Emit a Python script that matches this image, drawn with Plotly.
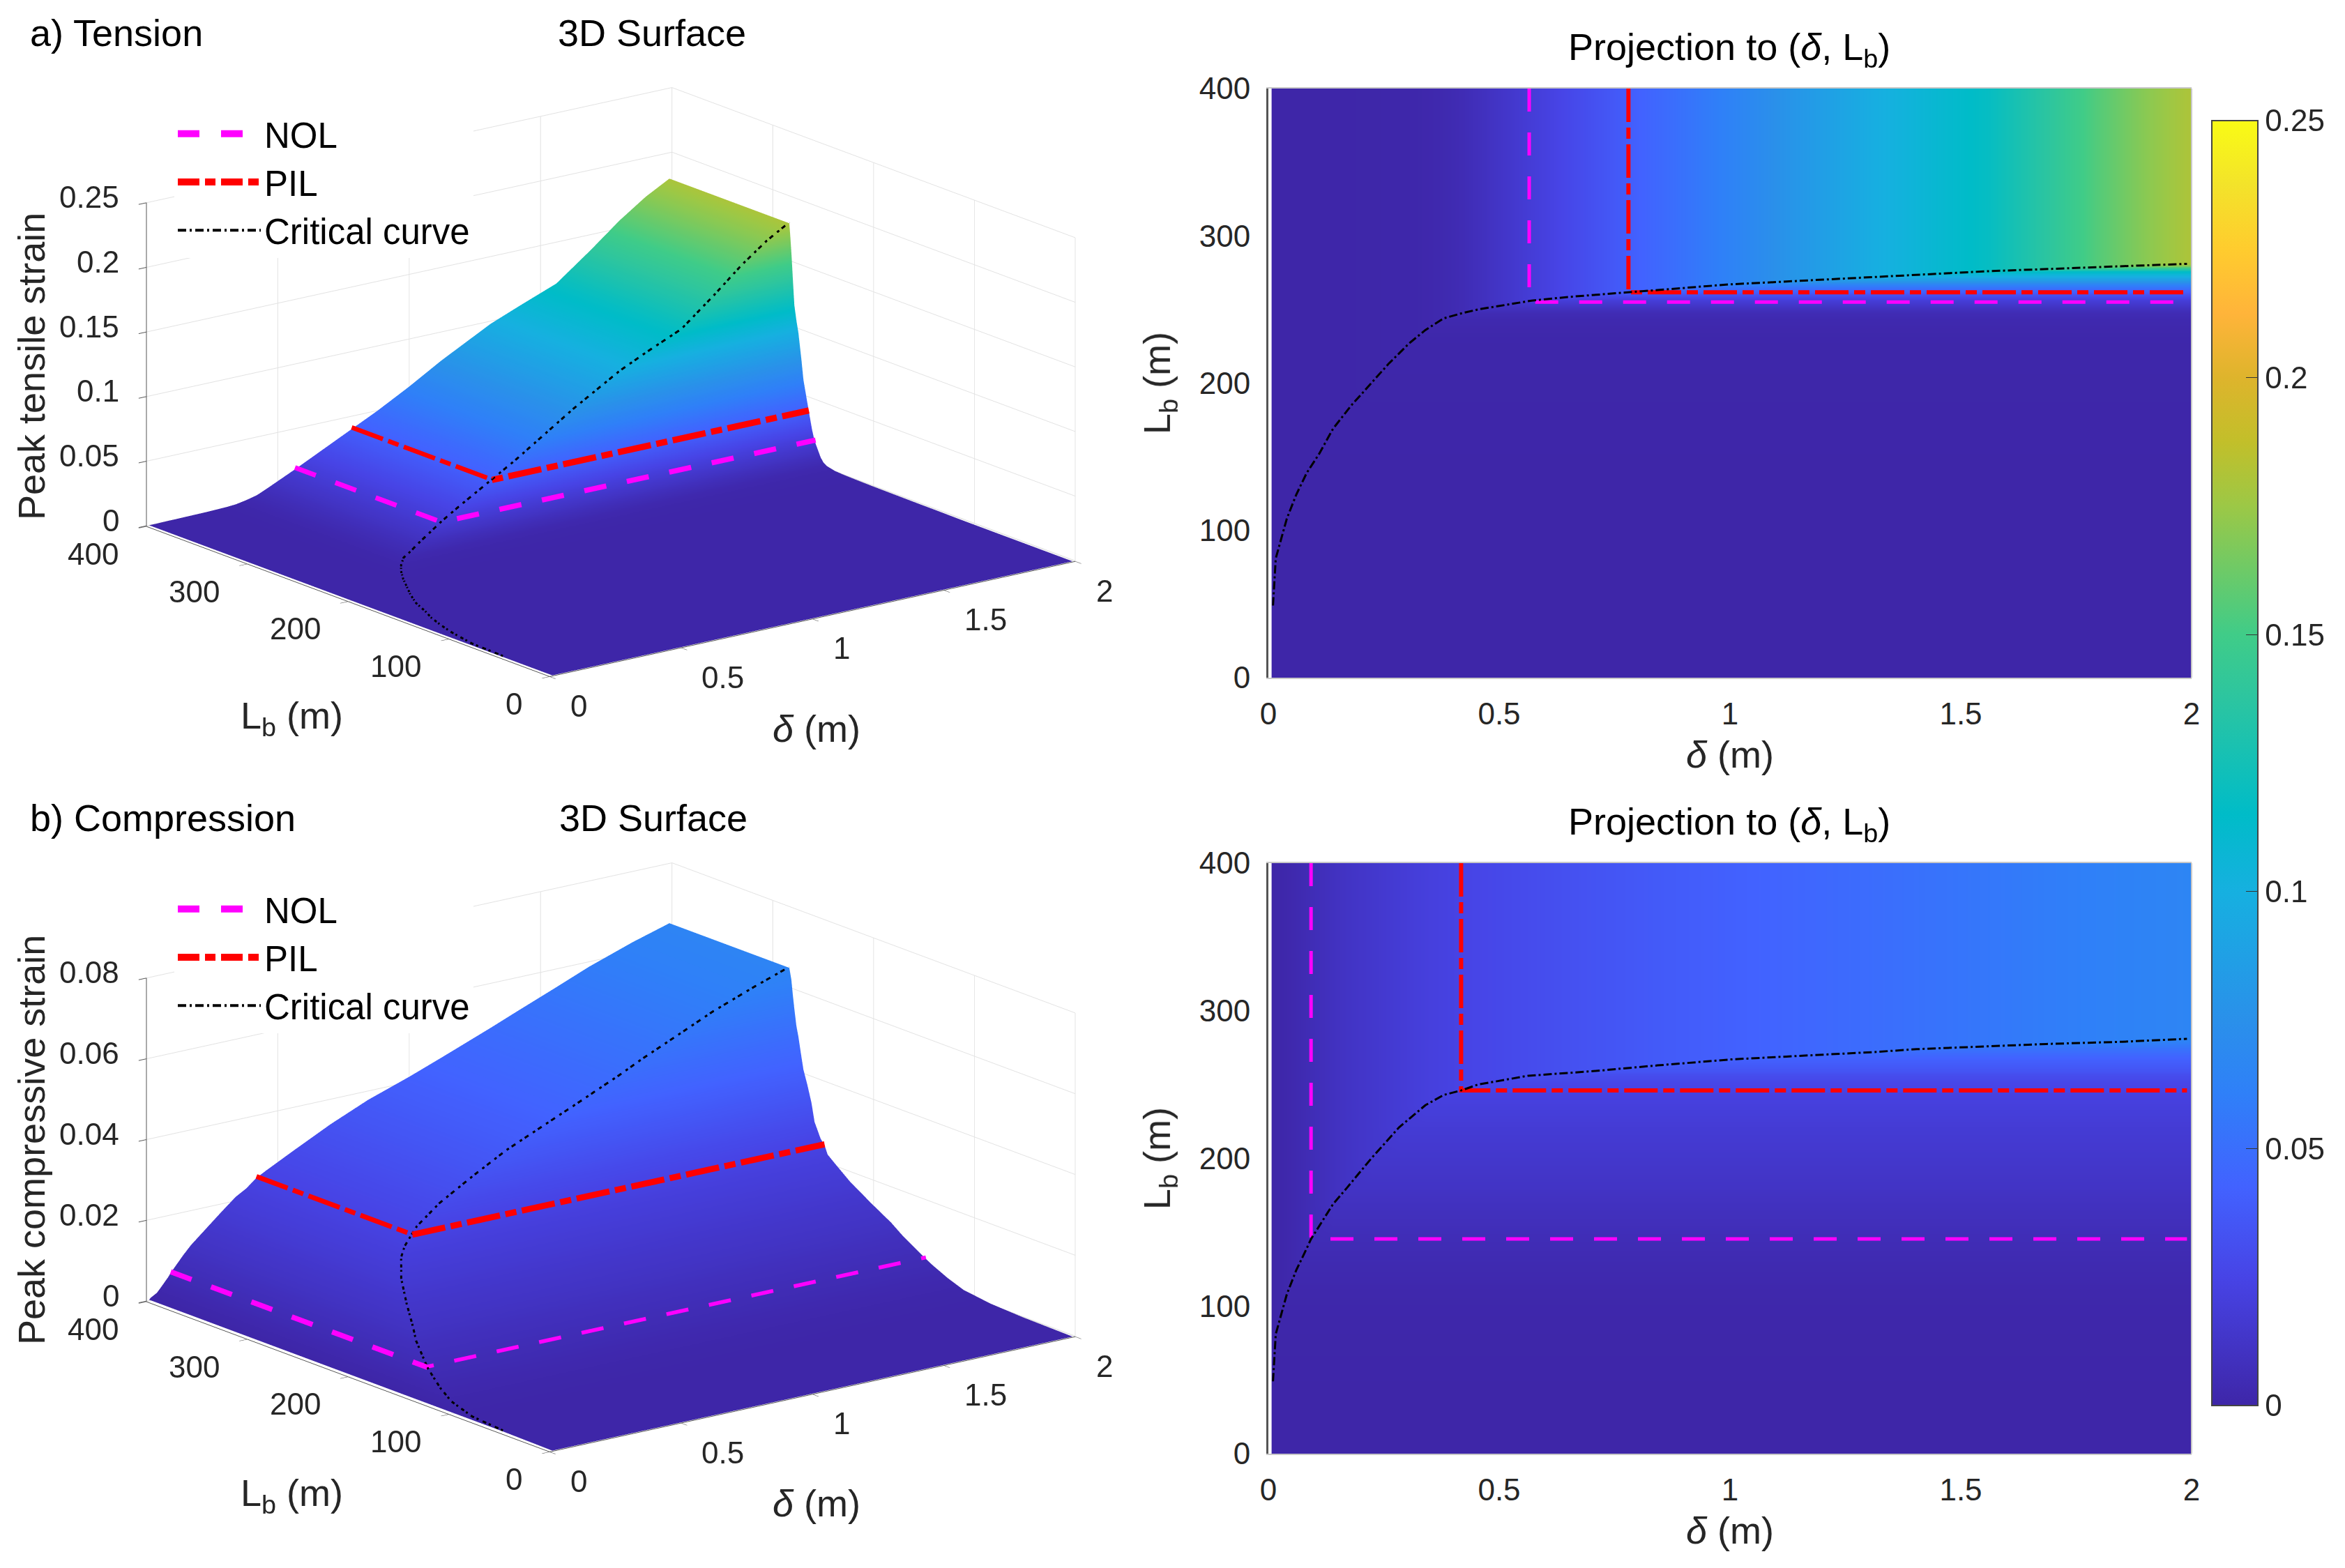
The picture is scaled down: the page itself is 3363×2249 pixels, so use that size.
import numpy as np
import plotly.graph_objects as go

W, H = 3363, 2249

# ---- values ----
# critical curve, shared by both panels: delta (m) and Lb (m)
t_delta = [0.01,0.016,0.04,0.06,0.083,0.11,0.14,0.18,0.223,0.26,0.305,0.34,0.38,0.42,0.454,0.57,0.65,0.78,0.88,0.998,1.123,1.31,1.42,1.56,1.69,1.8,1.9,1.99]
t_Lb    = [49,81,108,124,139,152,169,185,200,213,227,236,244,247.5,250,256,258.5,261.6,264,267,269,272,274,276,277.5,278.8,280,281]
# peak tensile strain along that curve
t_peak  = [0,0,0,0.0001,0.0002,0.0002,0.0003,0.0004,0.0005,0.0007,0.001,0.0015,0.003,0.005,0.008,0.019,0.027,0.04,0.05,0.063,0.078,0.098,0.107,0.118,0.138,0.156,0.17,0.18]

c_delta = [0.01,0.016,0.04,0.06,0.083,0.0924,0.14,0.17,0.223,0.283,0.34,0.38,0.4175,0.454,0.563,0.7,0.843,1.0,1.123,1.31,1.405,1.56,1.685,1.85,1.99]
c_Lb    = [49,81,108,124,139,145.4,169,180,200,221,236,243,246,250,256,259,263,267,269,272,274,276,277.5,279,281]
c_peak  = [0.0002,0.0006,0.0015,0.003,0.0048,0.0057,0.0094,0.0115,0.0145,0.0179,0.021,0.0225,0.0245,0.0258,0.0294,0.0338,0.0378,0.0413,0.0443,0.049,0.0515,0.0555,0.0588,0.0625,0.0652]

t_nol_delta = [0.565,0.565,1.99]
t_nol_Lb    = [400,255,255]
t_nol_z     = [0.019,0.019,0.019]
t_pil_delta = [0.78,0.78,1.99]
t_pil_Lb    = [400,261.6,261.6]
t_pil_z     = [0.04,0.04,0.04]
c_nol_delta = [0.0924,0.0924,1.99]
c_nol_Lb    = [400,145.4,145.4]
c_nol_z     = [0.0057,0.0057,0.0057]
c_pil_delta = [0.4175,0.4175,1.99]
c_pil_Lb    = [400,246,246]
c_pil_z     = [0.0245,0.0245,0.0245]

delta_ticks = [0,0.5,1,1.5,2]
Lb_ticks = [0,100,200,300,400]
t_z_ticks = [0,0.05,0.1,0.15,0.2,0.25]
c_z_ticks = [0,0.02,0.04,0.06,0.08]
cbar_ticks = [0,0.05,0.1,0.15,0.2,0.25]

parula = [[0,'#3e26a8'],[0.1,'#4744e6'],[0.17,'#4262ff'],[0.243,'#2f80f8'],[0.3,'#2a90ea'],[0.4,'#16b0e0'],
          [0.46,'#00bcc8'],[0.55,'#2cc5a0'],[0.6,'#40cc88'],[0.7,'#9cc846'],[0.75,'#c2bf2a'],[0.8,'#deb42c'],
          [0.85,'#ffb43a'],[0.9,'#ffcc2e'],[0.95,'#f3e32a'],[1,'#f9fb15']]

FONT = 'Liberation Sans'
TICK = '#262626'
MAG, RED, BLK = '#ff00ff', '#ff0000', '#000000'

def surface_table(delta, Lb, peak):
    """Lb row / delta column table: the strain saturates at the lower of the two read profiles."""
    p = np.array(peak)
    rows = np.concatenate([[0.0], p, [p[-1]]])
    return [0] + list(Lb) + [400], np.minimum.outer(rows, p)

def dashed(xs, ys, zs, pattern):
    """Cut a 3D polyline into on/off pieces; pattern lengths are in screen pixels along the line."""
    ox, oy, oz = [], [], []
    idx, left, on = 0, pattern[0], True
    for i in range(len(xs)-1):
        dx, dy = xs[i+1]-xs[i], ys[i+1]-ys[i]
        length = float(np.hypot(375*dx - 1.4525*dy, 82*dx + 0.54*dy))
        pos = 0.0
        while pos < length:
            step = min(left, length-pos)
            a, b = pos/length, (pos+step)/length
            if on:
                for f in (a, b):
                    ox.append(xs[i]+f*dx); oy.append(ys[i]+f*dy); oz.append(zs[i])
                ox.append(None); oy.append(None); oz.append(None)
            pos += step
            left -= step
            if left <= 1e-9:
                idx = (idx+1) % len(pattern)
                left = pattern[idx]
                on = not on
    return ox, oy, oz

fig = go.Figure()
D = 3.0
A = 1.9
el, al = np.radians(16.6), np.radians(52.5)
eye = dict(x=-np.cos(el)*np.cos(al)*D, y=-np.cos(el)*np.sin(al)*D, z=np.sin(el)*D)

def px_dom(a, b, total):
    return [a/total, b/total]

panels = [
    dict(delta=t_delta, Lb=t_Lb, peak=t_peak, nol=(t_nol_delta,t_nol_Lb,t_nol_z), pil=(t_pil_delta,t_pil_Lb,t_pil_z),
         scene='scene', xa='x', ya='y', cy=548, zr=[0,0.25], zt=t_z_ticks, top=127, bot=972, leg='legend', legtop=152),
    dict(delta=c_delta, Lb=c_Lb, peak=c_peak, nol=(c_nol_delta,c_nol_Lb,c_nol_z), pil=(c_pil_delta,c_pil_Lb,c_pil_z),
         scene='scene2', xa='x2', ya='y2', cy=1660, zr=[0,0.08], zt=c_z_ticks, top=1238, bot=2085, leg='legend2', legtop=1264),
]

for k, p in enumerate(panels):
    Lrows, Z = surface_table(p['delta'], p['Lb'], p['peak'])
    fig.add_trace(go.Surface(x=p['delta'], y=Lrows, z=Z, coloraxis='coloraxis', scene=p['scene'], showscale=False,
                             lighting=dict(ambient=1, diffuse=0, specular=0, fresnel=0, roughness=1),
                             contours=dict(x=dict(highlight=False), y=dict(highlight=False), z=dict(highlight=False)),
                             hoverinfo='skip', showlegend=False))
    lift = (p['zr'][1]) * 0.003
    for (xs, ys, zs), col, pat, w in [(p['nol'], MAG, (32, 30), 15), (p['pil'], RED, (48, 8, 16, 8), 18)]:
        dx, dy, dz = dashed(xs, ys, [v+lift for v in zs], pat)
        fig.add_trace(go.Scatter3d(x=dx, y=dy, z=dz, mode='lines', scene=p['scene'], connectgaps=False,
                                   line=dict(color=col, width=w), showlegend=False, hoverinfo='skip'))
    fig.add_trace(go.Scatter3d(x=p['delta'], y=p['Lb'], z=[v+lift for v in p['peak']], mode='lines', scene=p['scene'],
                               line=dict(color=BLK, width=6, dash='dashdot'), showlegend=False, hoverinfo='skip'))
    # projection
    fig.add_trace(go.Heatmap(x=p['delta'], y=Lrows, z=Z, coloraxis='coloraxis', zsmooth='best', xaxis=p['xa'], yaxis=p['ya'],
                             hoverinfo='skip', showlegend=False))
    fig.add_trace(go.Scatter(x=p['nol'][0], y=p['nol'][1], mode='lines', xaxis=p['xa'], yaxis=p['ya'], legend=p['leg'],
                             line=dict(color=MAG, width=5, dash='33px,30px'), name='NOL', showlegend=False))
    fig.add_trace(go.Scatter(x=p['pil'][0], y=p['pil'][1], mode='lines', xaxis=p['xa'], yaxis=p['ya'], legend=p['leg'],
                             line=dict(color=RED, width=6, dash='48px,8px,16px,8px'), name='PIL', showlegend=False))
    fig.add_trace(go.Scatter(x=p['delta'], y=p['Lb'], mode='lines', xaxis=p['xa'], yaxis=p['ya'], legend=p['leg'],
                             line=dict(color=BLK, width=3, dash='12px,4px,3px,4px'), name='Critical curve', showlegend=False))
    # legend samples
    for nm, col, w, dash in [('NOL', MAG, 10, '31px,31px'), ('PIL', RED, 10, '31px,8px,15px,8px'), ('Critical curve', BLK, 4, '12px,5px,3px,5px')]:
        fig.add_trace(go.Scatter(x=[None], y=[None], mode='lines', xaxis=p['xa'], yaxis=p['ya'], legend=p['leg'],
                                 line=dict(color=col, width=w, dash=dash), name=nm, showlegend=True))

    # tick labels anchored to the 3D axes
    anns = []
    tfont = dict(family=FONT, size=44, color=TICK)
    for v in p['zt']:
        anns.append(dict(x=0, y=400, z=v, text=f'{v:g}', showarrow=False, xanchor='right', yanchor='middle', xshift=-36, yshift=8, font=tfont))
    for v in Lb_ticks:
        anns.append(dict(x=0, y=v, z=0, text=f'{v:g}', showarrow=False, xanchor='right', yanchor='middle', xshift=-37, yshift=-40, font=tfont))
    for v in delta_ticks:
        anns.append(dict(x=v, y=0, z=0, text=f'{v:g}', showarrow=False, xanchor='left', yanchor='middle', xshift=28, yshift=-43, font=tfont))

    sc = dict(
        domain=dict(x=px_dom(25.5, 1725.5, W), y=[1-(p['cy']+500)/H, 1-(p['cy']-500)/H]),
        aspectmode='manual', aspectratio=dict(x=A, y=A, z=0.51*A),
        camera=dict(eye=eye, center=dict(x=0, y=0, z=0), up=dict(x=0, y=0, z=1), projection=dict(type='orthographic')),
        annotations=anns,
    )
    def ax3(rng, tv):
        return dict(range=rng, tickvals=tv, ticktext=[f'{v:g}' for v in tv], title=dict(text=''), showbackground=False,
                    showgrid=True, gridcolor='#e2e2e2', gridwidth=2, zeroline=False, showline=True, linecolor='#555555', linewidth=2,
                    ticks='outside', ticklen=14, tickcolor='#555555', tickwidth=2, showspikes=False, showticklabels=False,
                    tickfont=dict(family=FONT, size=44, color=TICK))
    sc['xaxis'] = ax3([0, 2], delta_ticks)
    sc['yaxis'] = ax3([0, 400], Lb_ticks)
    # floor a hair below zero so its grid cannot bleed through the flat part of the surface
    sc['zaxis'] = ax3([-0.002*p['zr'][1], p['zr'][1]], p['zt'])
    fig.update_layout({p['scene']: sc})

    xname = 'xaxis' if k == 0 else 'xaxis2'
    yname = 'yaxis' if k == 0 else 'yaxis2'
    tf = dict(family=FONT, size=44, color=TICK)
    fig.update_layout({
        xname: dict(domain=px_dom(1819, 3143, W), range=[0, 2], tickvals=delta_ticks, ticktext=[f'{v:g}' for v in delta_ticks],
                    showgrid=False, zeroline=False, showline=True, mirror=True, linecolor='#c8c8c8', linewidth=2, anchor=p['ya'],
                    ticks='outside', ticklen=12, tickcolor='rgba(0,0,0,0)', tickfont=tf,
                    title=dict(text='<i>δ</i> (m)', font=dict(family=FONT, size=54, color=TICK), standoff=16)),
        yname: dict(domain=[1-p['bot']/H, 1-p['top']/H], range=[0, 400], tickvals=Lb_ticks, ticktext=[f'{v:g}' for v in Lb_ticks],
                    showgrid=False, zeroline=False, showline=True, linecolor='#555555', linewidth=3, anchor=p['xa'],
                    ticks='outside', ticklen=14, tickcolor='rgba(0,0,0,0)', tickfont=tf,
                    title=dict(text='L<sub>b</sub> (m)', font=dict(family=FONT, size=54, color=TICK), standoff=25)),
    })
    fig.update_layout({p['leg']: dict(x=250/W, y=1-p['legtop']/H, xanchor='left', yanchor='top', bgcolor='white', borderwidth=0,
                                      font=dict(family=FONT, size=51, color='black'), itemwidth=119, tracegroupgap=0,
                                      itemclick=False, itemdoubleclick=False)})
    fig.add_shape(type='line', xref=f"{p['xa']} domain", yref=f"{p['ya']} domain", x0=1, x1=1, y0=0, y1=1,
                  line=dict(color='#c8c8c8', width=2))

def note(text, x, y, size=54, anchor='center', angle=0, color='black'):
    fig.add_annotation(text=text, x=x/W, y=1-y/H, xref='paper', yref='paper', showarrow=False, xanchor=anchor, yanchor='middle',
                       textangle=angle, font=dict(family=FONT, size=size, color=color))

note('a) Tension', 41, 47, anchor='left')
note('3D Surface', 935, 47)
note('b) Compression', 41, 1173, anchor='left')
note('3D Surface', 937, 1173)
note('Projection to (<i>δ</i>, L<sub>b</sub>)', 2480, 71)
note('Projection to (<i>δ</i>, L<sub>b</sub>)', 2480, 1182)
note('L<sub>b</sub> (m)', 418, 1030, color=TICK)
note('<i>δ</i> (m)', 1171, 1045, color=TICK)
note('L<sub>b</sub> (m)', 418, 2145, color=TICK)
note('<i>δ</i> (m)', 1171, 2156, color=TICK)
note('Peak tensile strain', 45, 526, angle=-90, color=TICK)
note('Peak compressive strain', 45, 1635, angle=-90, color=TICK)

fig.update_layout(
    width=W, height=H, margin=dict(l=0, r=0, t=0, b=0, autoexpand=False), paper_bgcolor='white', plot_bgcolor='white',
    font=dict(family=FONT, color=TICK),
    coloraxis=dict(cmin=0, cmax=0.25, colorscale=parula,
                   colorbar=dict(x=3172/W, xanchor='left', y=1-(173+2016)/2/H, yanchor='middle', len=(2016-173)/H, lenmode='fraction',
                                 thickness=66, thicknessmode='pixels', xpad=0, ypad=0, outlinecolor='#444444', outlinewidth=2,
                                 tickvals=cbar_ticks, ticktext=[f'{v:g}' for v in cbar_ticks], ticks='inside', ticklen=18,
                                 tickcolor='#333333', tickwidth=1, tickfont=dict(family=FONT, size=44, color=TICK))),
)
fig.write_html('out.html', post_script="document.body.style.margin='0';", config=dict(displayModeBar=False))
